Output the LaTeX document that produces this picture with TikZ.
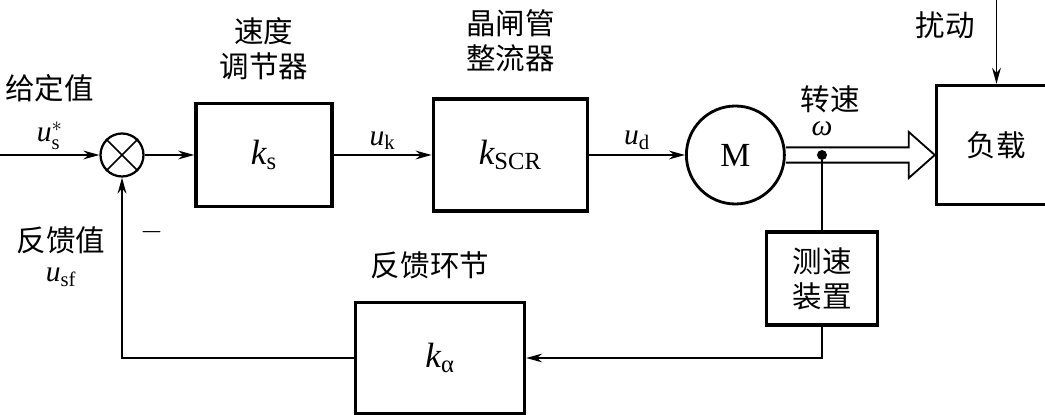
\RequirePackage{fix-cm}
\documentclass[tikz,border=0pt]{standalone}
\usepackage{amsmath}
\usepackage{fontspec}
\setmainfont{Liberation Serif}
\newfontfamily\cjk{Noto Sans CJK SC}
\usetikzlibrary{arrows.meta,positioning,calc}

\begin{document}
\begin{tikzpicture}[font=\fontsize{21}{25}\selectfont,
   blk/.style={draw,line width=2.4pt,font=\fontsize{25}{29}\selectfont},
   junc/.style={draw,circle,line width=1.6pt,inner sep=0pt,minimum size=10.75mm},
   sig/.style={line width=1.2pt,-{Stealth[length=4mm,width=2.2mm]}},
   wire/.style={line width=1.2pt},
   zh/.style={font=\cjk\fontsize{21}{25}\selectfont,align=center,inner sep=1pt}]
  \useasboundingbox (0,0) rectangle (26.125,10.375);
  % forward path
  \node[junc] (sum) at (3.05,6.5) {};
  \draw[wire] (sum.north west) -- (sum.south east) (sum.north east) -- (sum.south west);
  \node[blk,minimum width=3.4cm,minimum height=2.575cm,right=1.24cm of sum] (ks) {$\mathit{k}_{\mathrm{s}}$};
  \node[blk,minimum width=3.85cm,minimum height=2.8cm,right=2.45cm of ks] (kscr) {$\mathit{k}_{\mathrm{SCR}}$};
  \node[junc,minimum size=24.5mm,line width=2pt,font=\fontsize{24}{28}\selectfont,right=2.4cm of kscr] (mot) {M};
  \node[blk,zh,minimum width=3cm,minimum height=2.975cm,right=3.725cm of mot,yshift=2.5mm] (load) {负载};
  % shaft (hollow arrow)
  \coordinate (tip) at (mot.east -| load.west);
  \draw[line width=1.3pt] ([yshift=1.9mm]mot.east) -- ([xshift=-6.5mm,yshift=1.9mm]tip)
       -- ([xshift=-6.5mm,yshift=5.75mm]tip) -- (tip) -- ([xshift=-6.5mm,yshift=-5.75mm]tip)
       -- ([xshift=-6.5mm,yshift=-1.9mm]tip) -- ([yshift=-1.9mm]mot.east);
  \node[circle,fill,inner sep=0pt,minimum size=2.5mm] (tap) at (20.55,6.5) {};
  % feedback path
  \node[blk,zh,minimum width=2.775cm,minimum height=2.325cm,below=1.75cm of tap] (tach) {测速\\装置};
  \node[blk,minimum width=4.225cm,minimum height=2.775cm] (ka) at (11.0,1.425) {$\mathit{k}_{\text{α}}$};
  \coordinate (in) at (0,6.5);
  \coordinate (dist) at (load.north |- 0,10.375);
  % connectors
  \draw[sig] (in) -- (sum) node[midway,above] (us) {$\mathit{u}_{\mathrm{s}}^{*}$};
  \draw[sig] (sum) -- (ks);
  \draw[sig] (ks) -- (kscr) node[midway,above] {$\mathit{u}_{\mathrm{k}}$};
  \draw[sig] (kscr) -- (mot) node[midway,above] {$\mathit{u}_{\mathrm{d}}$};
  \draw[wire] (tap) -- (tach);
  \draw[sig] (tach) |- (ka);
  \draw[sig] (ka) -| (sum);
  \draw[sig] (dist) -- (load);
  % labels
  \node[zh,above=3mm of us] (setpt) {给定值};
  \node[zh] (fbv) at ([xshift=-15.25mm,yshift=-21.25mm]sum) {反馈值};
  \node[below=2mm of fbv] (usf) {$\mathit{u}_{\mathrm{sf}}$};
  \node (minus) at ([xshift=7.5mm,yshift=-19.25mm]sum) {$-$};
  \node[zh,above=5mm of ks] (ksname) {速度\\调节器};
  \node[zh,above=6mm of kscr] (scrname) {晶闸管\\整流器};
  \node[above=3mm of tap,inner sep=1pt] (omg) {\itshape ω};
  \node[zh,above=1.5mm of omg,xshift=2mm] (speed) {转速};
  \node[zh,anchor=east] (distname) at ([xshift=-5mm,yshift=-6.25mm]dist) {扰动};
  \node[zh,above=5mm of ka,xshift=-2.5mm] (kaname) {反馈环节};
\end{tikzpicture}
\end{document}
